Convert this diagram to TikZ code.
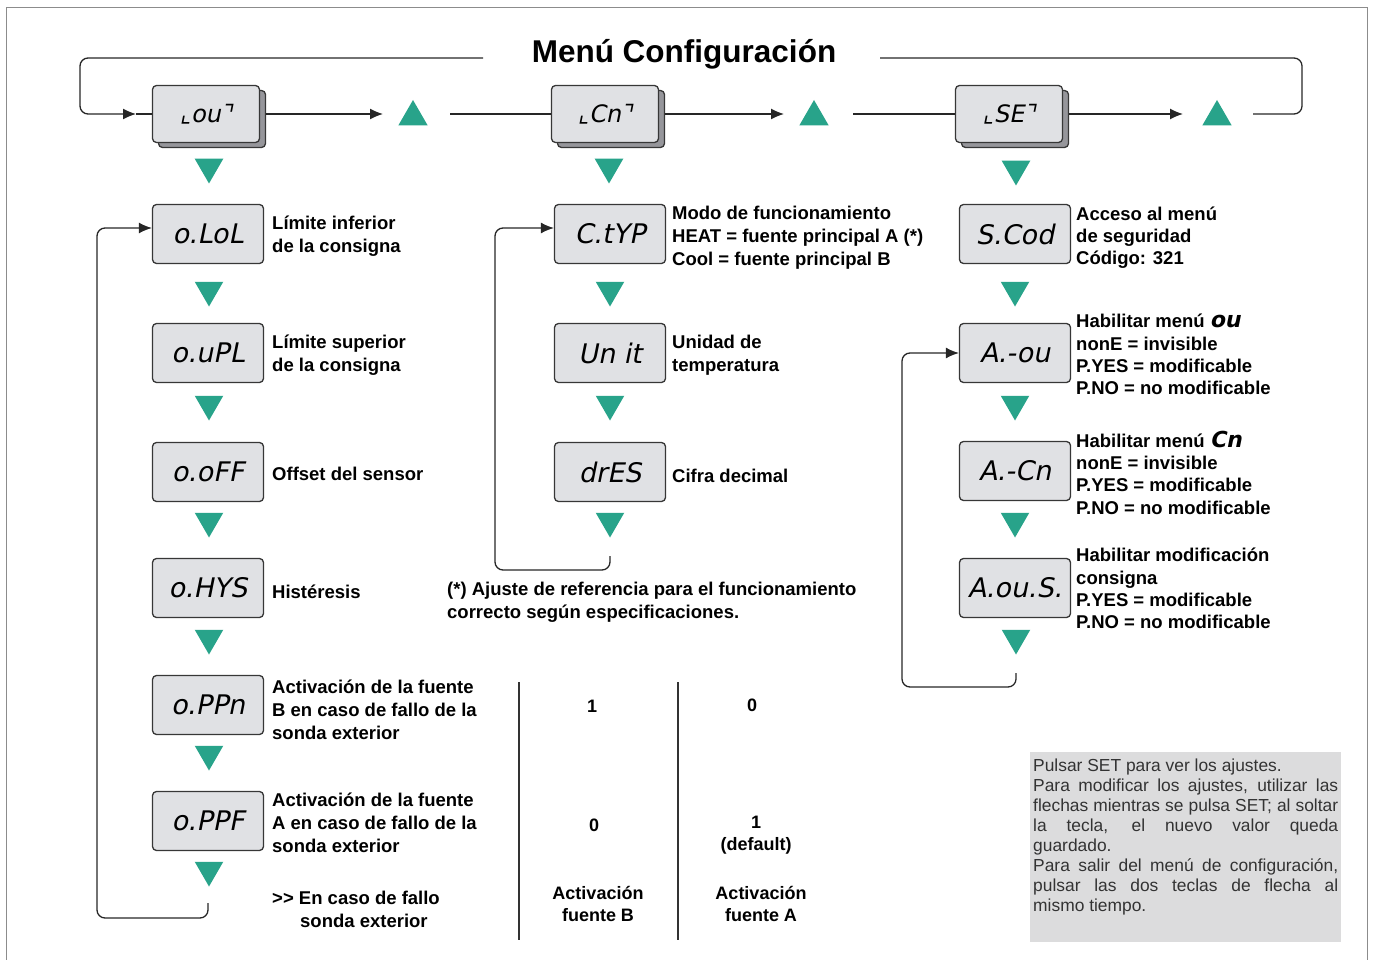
\documentclass[tikz,border=0pt]{standalone}
\usepackage{fontspec}
\setmainfont{Liberation Sans}
\newfontfamily\segfont[FakeSlant=0.2]{DejaVu Sans}
\usetikzlibrary{arrows.meta,shapes.geometric}
\definecolor{teal1}{RGB}{40,163,138}
\definecolor{boxfill}{RGB}{224,225,228}
\definecolor{boxline}{RGB}{55,55,55}
\definecolor{shade}{RGB}{150,150,155}
\definecolor{notegray}{RGB}{220,220,221}
\definecolor{framec}{RGB}{140,140,140}
\tikzset{
 disp/.style={draw=boxline, line width=1.3pt, fill=boxfill, rounded corners=4pt, minimum width=111pt, minimum height=59pt, inner sep=0pt, font=\segfont\fontsize{27}{30}\selectfont},
 topdisp/.style={disp, minimum width=107pt, minimum height=57pt, font=\segfont\fontsize{24}{26}\selectfont},
 shadowbox/.style={draw=boxline, line width=1.3pt, fill=shade, rounded corners=4pt, minimum width=107pt, minimum height=57pt, inner sep=0pt},
 tridown/.style={regular polygon, regular polygon sides=3, shape border rotate=180, fill=teal1, inner sep=0pt, minimum size=33pt},
 triup/.style={regular polygon, regular polygon sides=3, fill=teal1, inner sep=0pt, minimum size=34pt},
 lbl/.style={anchor=west, align=left, inner sep=0pt, yshift=-2.5pt, font=\bfseries\fontsize{18.5}{23}\selectfont},
 lblr/.style={lbl, font=\bfseries\fontsize{18.5}{22.3}\selectfont},
 tbl/.style={align=center, inner sep=0pt, font=\bfseries\fontsize{18}{22}\selectfont},
 conn/.style={line width=1.3pt, draw=black!85, rounded corners=8pt},
 arr/.style={conn, -{Latex[length=13pt,width=11pt]}},
}
\begin{document}
\begin{tikzpicture}[x=1pt,y=-1pt]
\useasboundingbox (0,0) rectangle (1375,960);
% frame
\draw[framec, line width=1pt] (6,962) -- (6,8) -- (1367,8) -- (1367,962);
% title
\node[inner sep=0pt, font=\bfseries\fontsize{31.5}{36}\selectfont] (title) at (684,54) {Menú Configuración};
% top boxes
\node[shadowbox] (lous) at (212,119) {};
\node[topdisp] (lou) at (206,114) {⌞ou⌝};
\node[shadowbox] (lcns) at (611,119) {};
\node[topdisp] (lcn) at (605,114) {⌞Cn⌝};
\node[shadowbox] (lses) at (1015,119) {};
\node[topdisp] (lse) at (1009,114) {⌞SE⌝};
% up triangles
\node[triup] (u1) at (413,117) {};
\node[triup] (u2) at (814,117) {};
\node[triup] (u3) at (1217,117) {};
% top connectors
\coordinate (tl) at (483,58);
\coordinate (a0) at (136,114);
\coordinate (a1) at (383,114);
\coordinate (b1) at (450,114);
\coordinate (a2) at (784,114);
\coordinate (b2) at (853,114);
\coordinate (a3) at (1183,114);
\coordinate (b3) at (1253,114);
\coordinate (tr) at (880,58);
\draw[arr] (tl) -- (80,58) -- (80,114) -- (a0);
\draw[conn] (a0) -- (lou.west);
\draw[arr] ([xshift=6pt]lou.east) -- (a1);
\draw[conn] (b1) -- (lcn.west);
\draw[arr] ([xshift=6pt]lcn.east) -- (a2);
\draw[conn] (b2) -- (lse.west);
\draw[arr] ([xshift=6pt]lse.east) -- (a3);
\draw[conn] (b3) -- (1302,114) -- (1302,58) -- (tr);
% column 1
\node[tridown] (d10) at (209,167) {};
\node[disp] (c1a) at (208,234) {o.LoL};
\node[tridown] (d11) at (209,290) {};
\node[disp] (c1b) at (208,353) {o.uPL};
\node[tridown] (d12) at (209,404) {};
\node[disp] (c1c) at (208,472) {o.oFF};
\node[tridown] (d13) at (209,521) {};
\node[disp] (c1d) at (208,588) {o.HYS};
\node[tridown] (d14) at (209,638) {};
\node[disp] (c1e) at (208,705) {o.PPn};
\node[tridown] (d15) at (209,754) {};
\node[disp] (c1f) at (208,821) {o.PPF};
\node[tridown] (d16) at (209,870) {};
\coordinate (l1s) at (208,903);
\draw[arr] (l1s) -- (208,918) -- (97,918) -- (97,228) -- ([yshift=6pt]c1a.west);
\node[lbl] (t1a) at (272,234) {Límite inferior\\de la consigna};
\node[lbl] (t1b) at (272,353) {Límite superior\\de la consigna};
\node[lbl] (t1c) at (272,471) {Offset del sensor};
\node[lbl] (t1d) at (272,589) {Histéresis};
\node[lbl] (t1e) at (272,707) {Activación de la fuente\\B en caso de fallo de la\\sonda exterior};
\node[lbl] (t1f) at (272,820) {Activación de la fuente\\A en caso de fallo de la\\sonda exterior};
\node[lbl] (t1g) at (272,907) {\textgreater{}\textgreater{} En caso de fallo\\\hspace*{28pt}sonda exterior};
% column 2
\node[tridown] (d20) at (609,167) {};
\node[disp] (c2a) at (610,234) {C.tYP};
\node[tridown] (d21) at (610,290) {};
\node[disp] (c2b) at (610,353) {Un it};
\node[tridown] (d22) at (610,404) {};
\node[disp] (c2c) at (610,472) {drES};
\node[tridown] (d23) at (610,521) {};
\coordinate (l2s) at (610,556);
\draw[arr] (l2s) -- (610,570) -- (495,570) -- (495,228) -- ([yshift=6pt]c2a.west);
\node[lbl] (t2a) at (672,235) {Modo de funcionamiento\\HEAT = fuente principal A (*)\\Cool = fuente principal B};
\node[lbl] (t2b) at (672,353) {Unidad de\\temperatura};
\node[lbl] (t2c) at (672,473) {Cifra decimal};
\node[lbl] (t2d) at (447,600) {(*) Ajuste de referencia para el funcionamiento\\correcto según especificaciones.};
% column 3
\node[tridown] (d30) at (1016,169) {};
\node[disp] (c3a) at (1015,234) {S.Cod};
\node[tridown] (d31) at (1015,290) {};
\node[disp] (c3b) at (1015,353) {A.-ou};
\node[tridown] (d32) at (1015,404) {};
\node[disp] (c3c) at (1015,471) {A.-Cn};
\node[tridown] (d33) at (1015,521) {};
\node[disp] (c3d) at (1015,588) {A.ou.S.};
\node[tridown] (d34) at (1016,638) {};
\coordinate (l3s) at (1016,673);
\draw[arr] (l3s) -- (1016,687) -- (902,687) -- (902,353) -- (c3b.west);
\node[lblr] (t3a) at (1076,235) {Acceso al menú\\de seguridad\\Código: 321};
\node[lblr] (t3b) at (1076,352) {Habilitar menú {\segfont\fontsize{22}{22}\selectfont ou}\\nonE = invisible\\P.YES = modificable\\P.NO = no modificable};
\node[lblr] (t3c) at (1076,470) {Habilitar menú {\segfont\fontsize{22}{22}\selectfont Cn}\\nonE = invisible\\P.YES = modificable\\P.NO = no modificable};
\node[lblr] (t3d) at (1076,586) {Habilitar modificación\\consigna\\P.YES = modificable\\P.NO = no modificable};
% table
\coordinate (v1t) at (519,682);
\coordinate (v1b) at (519,940);
\coordinate (v2t) at (678,682);
\coordinate (v2b) at (678,940);
\draw[line width=1.3pt, black!80] (v1t) -- (v1b);
\draw[line width=1.3pt, black!80] (v2t) -- (v2b);
\node[tbl] (tb1) at (592,706) {1};
\node[tbl] (tb2) at (752,705) {0};
\node[tbl] (tb3) at (594,825) {0};
\node[tbl] (tb4) at (756,835) {1\\(default)};
\node[tbl] (tb5) at (598,904) {Activación\\fuente B};
\node[tbl] (tb6) at (761,904) {Activación\\fuente A};
% note
\fill[notegray] (1030,752) rectangle (1341,942);
\node[anchor=north west, inner sep=0pt, text width=305pt, align=justify, text=black!80, font=\fontsize{17.4}{20}\selectfont] (note) at (1033,759) {Pulsar SET para ver los ajustes.\par
Para modificar los ajustes, utilizar las\linebreak flechas mientras se pulsa SET; al soltar\linebreak la tecla, el nuevo valor queda\linebreak guardado.\par
Para salir del menú de configuración,\linebreak pulsar las dos teclas de flecha al\linebreak mismo tiempo.};
\end{tikzpicture}
\end{document}
